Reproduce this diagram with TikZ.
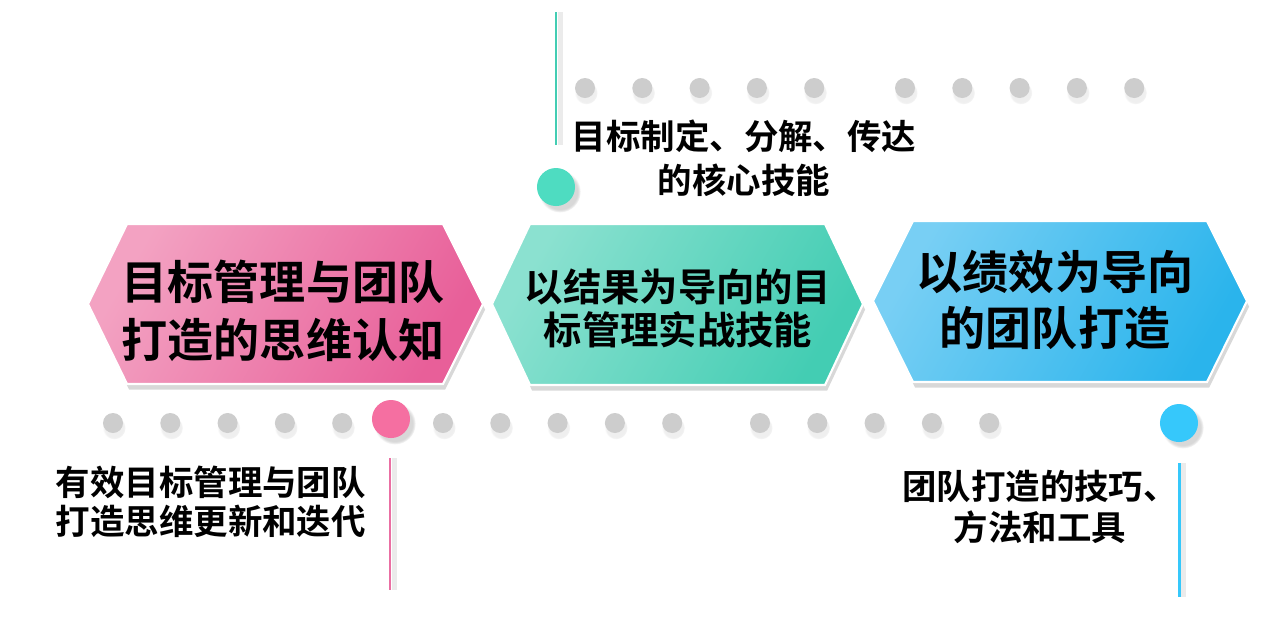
\documentclass[tikz,border=0pt]{standalone}
\usepackage{fontspec}
\newfontfamily\cjk{Noto Sans CJK SC}[BoldFont={* Bold}]
\usepackage{tikz}
\usetikzlibrary{shadows}
\definecolor{dotgray}{HTML}{CDCDCD}
\definecolor{pinkA}{HTML}{F3A2C2}
\definecolor{pinkB}{HTML}{E85F99}
\definecolor{pinkdot}{HTML}{F56FA1}
\definecolor{tealA}{HTML}{8BE1D0}
\definecolor{tealB}{HTML}{43CDB3}
\definecolor{tealdot}{HTML}{4EDCC1}
\definecolor{blueA}{HTML}{78CFF4}
\definecolor{blueB}{HTML}{2AB4EC}
\definecolor{bluedot}{HTML}{36C8FB}

\begin{document}
\begin{tikzpicture}[x=0.01cm,y=-0.01cm,
  graydot/.style={circle,inner sep=0pt,minimum size=0.2cm,fill=dotgray,
    circular drop shadow={shadow xshift=0.3pt,shadow yshift=-1.2pt,opacity=0.12,shadow scale=1.15}},
  bigdot/.style={circle,inner sep=0pt,minimum size=0.38cm,fill=#1,
    circular drop shadow={shadow xshift=1pt,shadow yshift=-1.2pt,opacity=0.3}},
  hexbox/.style={draw=white,line width=0.6pt,
    drop shadow={shadow xshift=0.6pt,shadow yshift=-1.6pt,opacity=0.3}},
  hexlabel/.style={align=center,inner sep=0pt},
  note/.style={inner sep=0pt},
  stem/.style={line width=0.85pt}]
\fill[white] (0,0) rectangle (1269,629);
\useasboundingbox (0,0) rectangle (1269,629);

% dotted rows
\foreach \i in {0,...,4} {
  \node[graydot] (ta\i) at (585+57.3*\i,88) {};
  \node[graydot] (tb\i) at (905+57.3*\i,88) {};
  \node[graydot] (ba\i) at (113+57.3*\i,423) {};
  \node[graydot] (bb\i) at (443+57.3*\i,423) {};
  \node[graydot] (bc\i) at (760+57.3*\i,423) {};
}

% stems
\coordinate (tealtop) at (556,12);
\coordinate (tealend) at (556,145);
\coordinate (pinktop) at (390,458);
\coordinate (pinkend) at (390,590);
\coordinate (bluetop) at (1179,463);
\coordinate (blueend) at (1179,597);
\draw[stem,black!8,line width=1.4pt] ([xshift=1.2pt]tealtop) -- ([xshift=1.2pt]tealend);
\draw[stem,black!8,line width=1.4pt] ([xshift=1.2pt]pinktop) -- ([xshift=1.2pt]pinkend);
\draw[stem,black!8,line width=1.4pt] ([xshift=1.2pt]bluetop) -- ([xshift=1.2pt]blueend);
\draw[stem,tealB] (tealtop) -- (tealend);
\draw[stem,pinkB!90] (pinktop) -- (pinkend);
\draw[stem,bluedot] (bluetop) -- (blueend);

% colour dots
\node[bigdot=pinkdot] (pinkc) at (391,419) {};
\node[bigdot=tealdot] (tealc) at (556,187) {};
\node[bigdot=bluedot] (bluec) at (1179,423) {};

% hexagons
\path[hexbox,left color=pinkA,right color=pinkB,shading angle=60]
  (88,304) -- (127,224) -- (443,224) -- (483,304) -- (443,384) -- (127,384) -- cycle;
\path[hexbox,left color=tealA,right color=tealB,shading angle=60]
  (492,304) -- (530,224) -- (825,224) -- (863,304) -- (825,385) -- (530,385) -- cycle;
\path[hexbox,left color=blueA,right color=blueB,shading angle=60]
  (873,301) -- (913,221) -- (1207,221) -- (1247,301) -- (1207,382) -- (913,382) -- cycle;

\node[hexlabel,font={\cjk\bfseries\fontsize{13.1}{16.5}\selectfont}] (mindset) at (283,311)
  {目标管理与团队\\打造的思维认知};
\node[hexlabel,font={\cjk\bfseries\fontsize{10.9}{12.2}\selectfont}] (results) at (678,308)
  {以结果为导向的目\\标管理实战技能};
\node[hexlabel,font={\cjk\bfseries\fontsize{13.1}{16}\selectfont}] (team) at (1055,300)
  {以绩效为导向\\的团队打造};

% notes
\node[note,align=center,font={\cjk\bfseries\fontsize{9.8}{12.5}\selectfont}] (skills) at (744,158)
  {目标制定、分解、传达\\的核心技能};
\node[note,align=left,anchor=west,font={\cjk\bfseries\fontsize{9.8}{11.1}\selectfont}] (update) at (55,502)
  {有效目标管理与团队\\打造思维更新和迭代};
\node[note,align=center,font={\cjk\bfseries\fontsize{9.8}{11.7}\selectfont}] (tools) at (1040,507)
  {团队打造的技巧、\\方法和工具};
\end{tikzpicture}
\end{document}
